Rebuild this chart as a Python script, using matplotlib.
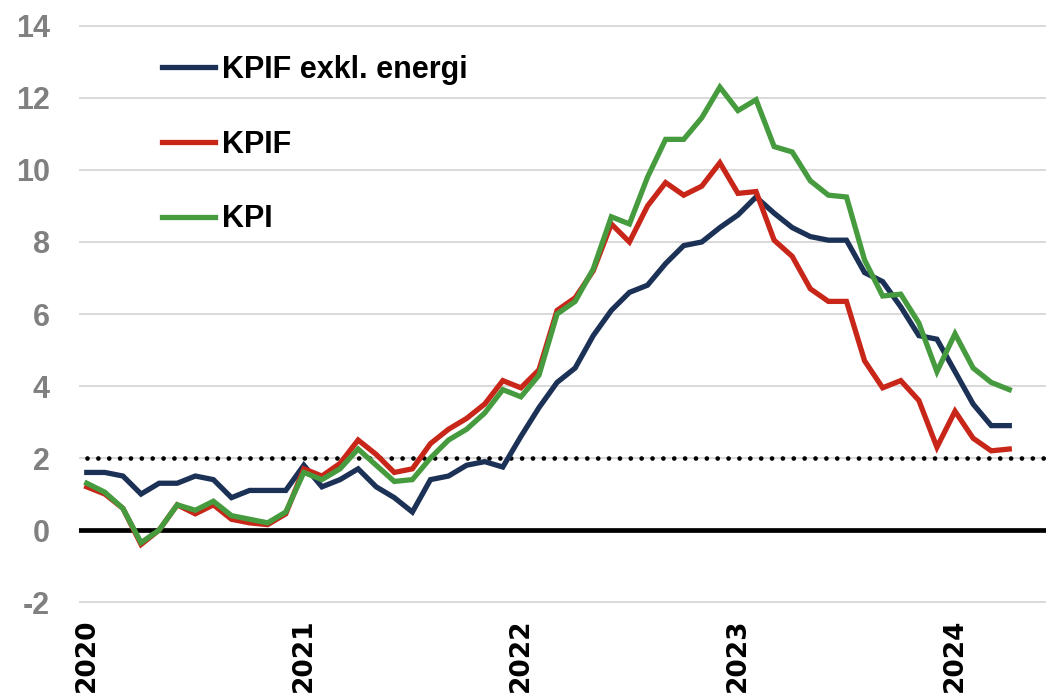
import matplotlib
matplotlib.use('Agg')
import matplotlib.pyplot as plt
import numpy as np

plt.rcParams['axes.unicode_minus'] = False

# monthly values, Jan 2020 - Apr 2024
kpif_xe = [1.6, 1.6, 1.5, 1.0, 1.3, 1.3, 1.5, 1.4, 0.9, 1.1, 1.1, 1.1,
           1.8, 1.2, 1.4, 1.7, 1.2, 0.9, 0.5, 1.4, 1.5, 1.8, 1.9, 1.75,
           2.6, 3.4, 4.1, 4.5, 5.4, 6.1, 6.6, 6.8, 7.4, 7.9, 8.0, 8.4,
           8.75, 9.25, 8.8, 8.4, 8.15, 8.05, 8.05, 7.15, 6.9, 6.2, 5.4, 5.3,
           4.4, 3.5, 2.9, 2.9]
kpif = [1.2, 1.0, 0.6, -0.4, 0.0, 0.7, 0.45, 0.7, 0.3, 0.2, 0.15, 0.45,
        1.7, 1.5, 1.85, 2.5, 2.1, 1.6, 1.7, 2.4, 2.8, 3.1, 3.5, 4.15,
        3.95, 4.45, 6.1, 6.45, 7.2, 8.5, 8.0, 9.0, 9.65, 9.3, 9.55, 10.2,
        9.35, 9.4, 8.05, 7.6, 6.7, 6.35, 6.35, 4.7, 3.95, 4.15, 3.6, 2.3,
        3.3, 2.55, 2.2, 2.25]
kpi = [1.3, 1.05, 0.6, -0.35, 0.0, 0.7, 0.55, 0.8, 0.4, 0.3, 0.2, 0.5,
       1.6, 1.4, 1.7, 2.25, 1.8, 1.35, 1.4, 2.0, 2.5, 2.8, 3.25, 3.9,
       3.7, 4.3, 6.0, 6.35, 7.25, 8.7, 8.5, 9.8, 10.85, 10.85, 11.45, 12.3,
       11.65, 11.95, 10.65, 10.5, 9.7, 9.3, 9.25, 7.5, 6.5, 6.55, 5.75, 4.4,
       5.45, 4.5, 4.1, 3.9]
years = ['2020', '2021', '2022', '2023', '2024']
labels = ['KPIF exkl. energi', 'KPIF', 'KPI']
colors = ['#1c3156', '#c9261a', '#469b3e']
target = 2

months = np.arange(len(kpi))
xmax = 53.03

fig = plt.figure(figsize=(10.46, 6.94), dpi=100)
ax = fig.add_axes([79/1046, 1-603.5/694, (1046-79)/1046, 579/694])

ax.set_ylim(-2.04, 14.04)
ax.set_xlim(-0.43, xmax)
ax.set_yticks(np.arange(-2, 15, 2))
ax.grid(axis='y', color='#d9d9d9', linewidth=1.4)
ax.set_axisbelow(True)
for s in ax.spines.values():
    s.set_visible(False)

ax.axhline(0, color='black', linewidth=3.4, zorder=2)
# inflation target, dotted
ax.plot([0, xmax], [target, target], color='black', linewidth=3.4,
        linestyle=(0, (0.001, 2.3)), dash_capstyle='round', zorder=2)

for vals, lab, c in zip([kpif_xe, kpif, kpi], labels, colors):
    ax.plot(months, vals, color=c, linewidth=3.8, label=lab,
            solid_joinstyle='miter', zorder=3)

ax.set_xticks(months[::12])
ax.set_xticklabels(years, rotation=90, va='top', ha='center',
                   fontsize=19, fontweight='bold', family='DejaVu Sans')
ax.tick_params(axis='x', length=0, pad=11)
ax.tick_params(axis='y', length=0, pad=21, labelcolor='#808080')
for t in ax.get_yticklabels():
    t.set_fontsize(22)
    t.set_fontweight('bold')
    t.set_family('Liberation Sans')

leg = ax.legend(loc='upper left', bbox_to_anchor=(162/1046, 1-55/694),
                bbox_transform=fig.transFigure, frameon=False,
                borderpad=0, borderaxespad=0, handlelength=1.73,
                handletextpad=0.25, labelspacing=1.46,
                prop={'family': 'Liberation Sans', 'weight': 'bold', 'size': 22})

plt.savefig('out.png', dpi=100)
